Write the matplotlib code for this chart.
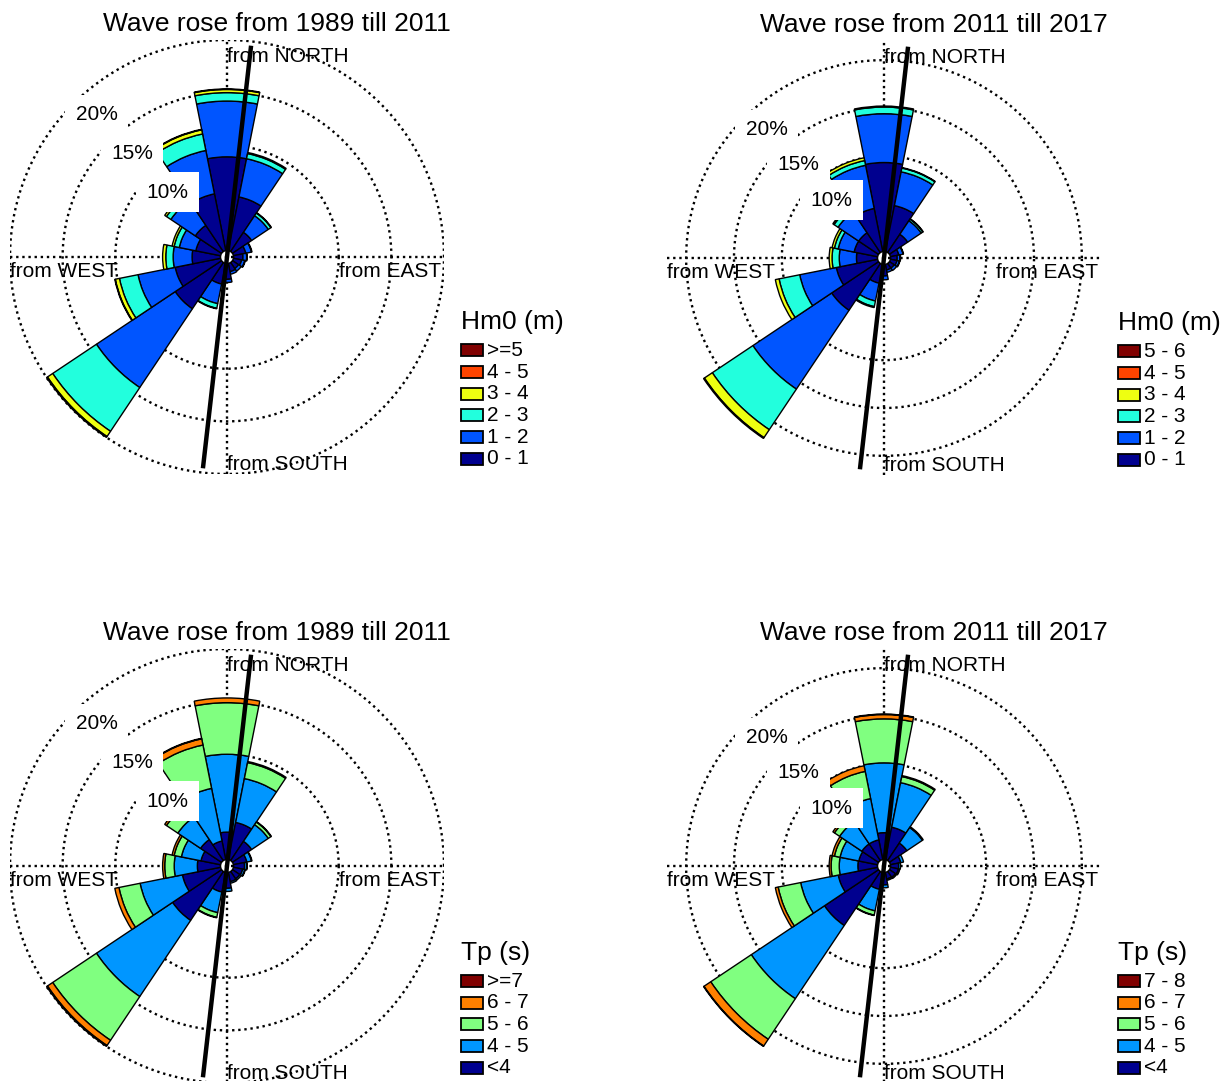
import numpy as np
import matplotlib.pyplot as plt
from matplotlib.patches import Wedge, Rectangle

plt.rcParams['font.family'] = ['Liberation Sans', 'DejaVu Sans']


# ------- Data: occurrence (%) per direction sector (N, NNE, ... NNW) and class -------

directions = ['N', 'NNE', 'NE', 'ENE', 'E', 'ESE', 'SE', 'SSE',
              'S', 'SSW', 'SW', 'WSW', 'W', 'WNW', 'NW', 'NNW']
bearings = np.arange(len(directions)) * 22.5
rings = [10, 15, 20]
coast_bearing = 6.5

# Hm0, 1989 - 2011
hm0_labels_a = ['0 - 1', '1 - 2', '2 - 3', '3 - 4', '4 - 5', '>=5']
hm0_a = [
    [8.9, 5.2, 2.2, 1.2, 0.9, 0.8, 0.7, 0.8, 1.5, 2.0, 5.3, 4.4, 2.7, 2.4, 3.0, 5.5],
    [5.3, 3.7, 1.9, 0.55, 0.35, 0.3, 0.3, 0.25, 0.3, 1.9, 9.0, 3.6, 1.8, 1.6, 2.8, 4.2],
    [0.8, 0.5, 0.3, 0.05, 0.05, 0.05, 0, 0, 0, 0.45, 5.0, 1.8, 0.7, 0.5, 0.5, 1.6],
    [0.3, 0.1, 0.05, 0, 0, 0, 0, 0, 0, 0.05, 0.6, 0.4, 0.3, 0.2, 0.2, 0.4],
    [0.05, 0, 0, 0, 0, 0, 0, 0, 0, 0, 0.1, 0.05, 0, 0, 0, 0.05],
    [0, 0, 0, 0, 0, 0, 0, 0, 0, 0, 0, 0, 0, 0, 0, 0],
]

# Hm0, 2011 - 2017
hm0_labels_b = ['0 - 1', '1 - 2', '2 - 3', '3 - 4', '4 - 5', '5 - 6']
hm0_b = [
    [9.3, 4.9, 2.3, 0.9, 0.7, 0.7, 0.6, 0.6, 1.2, 2.0, 5.9, 4.4, 2.2, 2.5, 2.5, 4.6],
    [5.1, 3.6, 1.7, 0.45, 0.3, 0.25, 0.3, 0.25, 0.4, 1.9, 9.9, 3.9, 1.8, 1.7, 2.6, 4.6],
    [0.7, 0.4, 0.2, 0.05, 0.05, 0.05, 0, 0, 0, 0.6, 5.1, 2.2, 0.75, 0.4, 0.5, 0.5],
    [0.1, 0.05, 0.05, 0, 0, 0, 0, 0, 0, 0.1, 1.0, 0.4, 0.3, 0.25, 0.15, 0.3],
    [0, 0, 0, 0, 0, 0, 0, 0, 0, 0, 0.1, 0, 0, 0, 0, 0],
    [0, 0, 0, 0, 0, 0, 0, 0, 0, 0, 0, 0, 0, 0, 0, 0],
]

# Tp, 1989 - 2011
tp_labels_a = ['<4', '4 - 5', '5 - 6', '6 - 7', '>=7']
tp_a = [
    [2.6, 3.6, 2.2, 1.3, 1.05, 0.9, 0.85, 0.9, 1.5, 1.9, 5.6, 3.7, 2.2, 1.9, 2.4, 1.8],
    [7.4, 4.25, 1.9, 0.45, 0.2, 0.2, 0.15, 0.15, 0.3, 2.0, 8.7, 4.1, 2.2, 1.9, 2.6, 5.1],
    [4.9, 1.55, 0.3, 0.05, 0.05, 0.05, 0, 0, 0, 0.45, 5.0, 2.05, 0.9, 0.7, 1.3, 4.2],
    [0.45, 0.1, 0.05, 0, 0, 0, 0, 0, 0, 0.05, 0.6, 0.4, 0.2, 0.2, 0.2, 0.6],
    [0, 0, 0, 0, 0, 0, 0, 0, 0, 0, 0.1, 0, 0, 0, 0, 0.05],
]

# Tp, 2011 - 2017
tp_labels_b = ['<4', '4 - 5', '5 - 6', '6 - 7', '7 - 8']
tp_b = [
    [2.8, 3.45, 2.2, 1.1, 0.85, 0.85, 0.75, 0.7, 1.3, 1.8, 6.8, 4.2, 2.05, 2.0, 2.1, 2.1],
    [7.3, 4.75, 1.95, 0.3, 0.2, 0.15, 0.15, 0.15, 0.3, 2.3, 9.2, 4.0, 1.95, 2.0, 2.8, 4.4],
    [4.6, 0.65, 0.1, 0, 0, 0, 0, 0, 0, 0.45, 5.1, 2.4, 0.85, 0.6, 0.65, 2.9],
    [0.45, 0.1, 0, 0, 0, 0, 0, 0, 0, 0.05, 0.85, 0.3, 0.2, 0.25, 0.2, 0.6],
    [0.05, 0, 0, 0, 0, 0, 0, 0, 0, 0, 0.05, 0, 0, 0, 0, 0],
]

hm0_colors = ['#00008F', '#0055FF', '#22FFDD', '#EEFF11', '#FF4400', '#800000']
tp_colors = ['#00008F', '#0096FF', '#80FF80', '#FF8000', '#800000']


# ------- Figure -------

W, H = 1227, 1081
fig = plt.figure(figsize=(W / 100, H / 100), dpi=100)
R = 217          # rose radius in pixels
hole = 0.03      # empty centre, fraction of radius


def draw_rose(cx, cy, classes, colors, labels, legend_title, title):
    ax = fig.add_axes([(cx - R) / W, 1 - (cy + R) / H, 2 * R / W, 2 * R / H])
    ax.set_xlim(-1, 1)
    ax.set_ylim(-1, 1)
    ax.axis('off')

    vals = np.array(classes, dtype=float)
    cum = np.cumsum(vals, axis=0)
    vmax = cum[-1].max()

    def rho(v):
        return hole + (1 - hole) * v / vmax

    # dotted grid
    t = np.linspace(0, 2 * np.pi, 500)
    for c in rings:
        ax.plot(rho(c) * np.cos(t), rho(c) * np.sin(t), color='black',
                ls=(0, (1, 1.6)), lw=1.7, zorder=1)
    ax.plot([-1, 1], [0, 0], color='black', ls=(0, (1, 1.6)), lw=1.7, zorder=1)
    ax.plot([0, 0], [-1, 1], color='black', ls=(0, (1, 1.6)), lw=1.7, zorder=1)

    # stacked sectors
    for j, b in enumerate(bearings):
        t1 = 90 - b - 11.25
        t2 = 90 - b + 11.25
        lower = 0.0
        for k in range(len(vals)):
            upper = cum[k, j]
            if vals[k, j] > 0:
                ax.add_patch(Wedge((0, 0), rho(upper), t1, t2,
                                   width=rho(upper) - rho(lower),
                                   facecolor=colors[k], edgecolor='black',
                                   lw=1.0, zorder=2))
            lower = upper

    # ring labels
    a = np.radians(132.5)
    for c in rings:
        r = rho(c) - 0.11
        ax.text(r * np.cos(a), r * np.sin(a), '%d%%' % c, ha='center',
                va='center', fontsize=15, zorder=3,
                bbox=dict(boxstyle='square,pad=0.5', fc='white', ec='none'))

    # coast normal line
    s, co = np.sin(np.radians(coast_bearing)), np.cos(np.radians(coast_bearing))
    ax.plot([-0.98 * s, 0.98 * s], [-0.98 * co, 0.98 * co], color='black',
            lw=3.2, zorder=4, solid_capstyle='butt')

    # direction names
    ax.text(0, 0.9, 'from NORTH', ha='left', va='baseline', fontsize=15, zorder=5)
    ax.text(0, -0.98, 'from SOUTH', ha='left', va='baseline', fontsize=15, zorder=5)
    ax.text(-1.0, -0.092, 'from WEST', ha='left', va='baseline', fontsize=15, zorder=5)
    ax.text(0.985, -0.092, 'from EAST', ha='right', va='baseline', fontsize=15, zorder=5)

    ax.text(0.23, 1.074, title, ha='center', va='center', fontsize=19)

    # legend, largest class on top
    for k, lab in enumerate(labels):
        y = -0.93 + k * 0.1
        ax.add_patch(Rectangle((1.08, y - 0.0275), 0.101, 0.055, facecolor=colors[k],
                               edgecolor='black', lw=1.3, clip_on=False))
        ax.text(1.2, y, lab, ha='left', va='center', fontsize=15)
    ax.text(1.08, -0.93 + (len(labels) - 1) * 0.1 + 0.13, legend_title,
            ha='left', va='center', fontsize=19)


draw_rose(227, 257, hm0_a, hm0_colors, hm0_labels_a, 'Hm0 (m)', 'Wave rose from 1989 till 2011')
draw_rose(884, 258, hm0_b, hm0_colors, hm0_labels_b, 'Hm0 (m)', 'Wave rose from 2011 till 2017')
draw_rose(227, 866, tp_a, tp_colors, tp_labels_a, 'Tp (s)', 'Wave rose from 1989 till 2011')
draw_rose(884, 866, tp_b, tp_colors, tp_labels_b, 'Tp (s)', 'Wave rose from 2011 till 2017')

fig.savefig('out.png', dpi=100)
